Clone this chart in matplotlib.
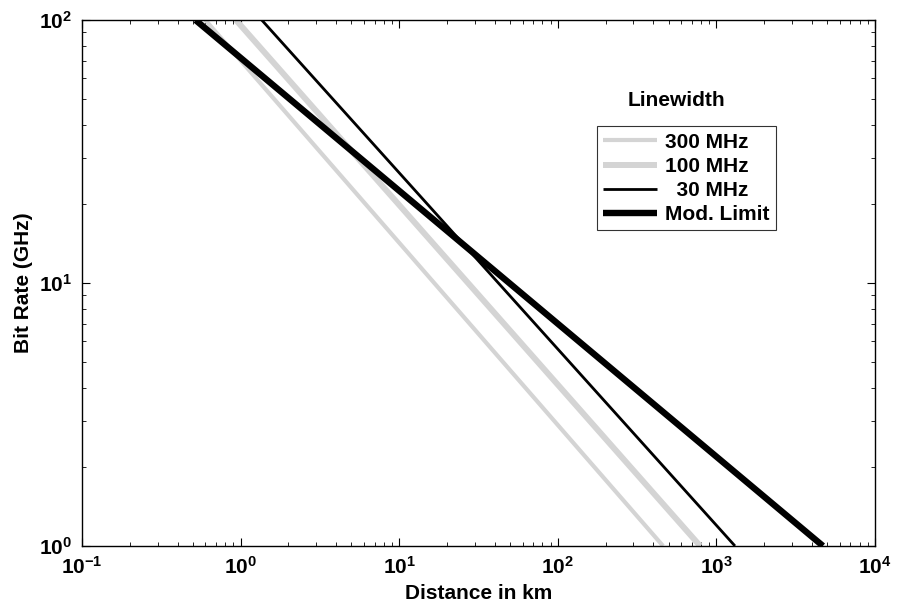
import numpy as np
import matplotlib.pyplot as plt
from matplotlib.ticker import FuncFormatter, LogLocator

plt.rcParams['font.family'] = ['Liberation Sans', 'DejaVu Sans']
plt.rcParams['font.weight'] = 'bold'
plt.rcParams['mathtext.fontset'] = 'custom'
plt.rcParams['mathtext.bf'] = 'Liberation Sans:bold'
plt.rcParams['mathtext.rm'] = 'Liberation Sans:bold'

# bit rate (GHz) at the two ends of each line
bit_rate = [100, 1]
# distance (km) read at those bit rates
dist_300 = [0.60, 461]
dist_100 = [0.935, 790]
dist_30 = [1.36, 1310]
dist_mod = [0.52, 4700]

labels = ['300 MHz', '100 MHz', '  30 MHz', 'Mod. Limit']

fig = plt.figure(figsize=(9.02, 6.10), dpi=100)
ax = fig.add_axes([0.091, 0.105, 0.879, 0.862])

gray = '#d4d4d4'
ax.loglog(dist_300, bit_rate, color=gray, lw=3.0, label=labels[0], solid_capstyle='butt')
ax.loglog(dist_100, bit_rate, color=gray, lw=4.3, label=labels[1], solid_capstyle='butt')
ax.loglog(dist_30, bit_rate, color='black', lw=2.0, label=labels[2], solid_capstyle='butt')
ax.loglog(dist_mod, bit_rate, color='black', lw=4.6, label=labels[3], solid_capstyle='butt')

ax.set_xlim(0.1, 1e4)
ax.set_ylim(1, 100)

fmt = FuncFormatter(lambda v, p: r'$\mathbf{10^{%d}}$' % round(np.log10(v)))
ax.xaxis.set_major_formatter(fmt)
ax.yaxis.set_major_formatter(fmt)
ax.xaxis.set_major_locator(LogLocator(base=10, numticks=10))
ax.tick_params(which='both', direction='in', top=True, right=True, labelsize=15)
ax.tick_params(which='major', length=6, width=0.8, pad=7)
ax.tick_params(which='minor', length=3, width=0.6)
for s in ax.spines.values():
    s.set_linewidth(1.0)

ax.set_xlabel('Distance in km', fontsize=15, fontweight='bold')
ax.set_ylabel('Bit Rate (GHz)', fontsize=15, fontweight='bold')
ax.xaxis.set_label_coords(0.5, -0.072)
ax.yaxis.set_label_coords(-0.062, 0.5)

leg = ax.legend(loc='upper left', bbox_to_anchor=(0.649, 0.798), borderaxespad=0,
                fontsize=15, frameon=True, fancybox=False, edgecolor='black',
                handlelength=2.6, borderpad=0.3, labelspacing=0.25, handletextpad=0.4)
leg.get_frame().set_linewidth(0.8)
ax.text(0.750, 0.848, 'Linewidth', transform=ax.transAxes, fontsize=15,
        fontweight='bold', ha='center', va='center')

fig.savefig('out.png', dpi=100)
